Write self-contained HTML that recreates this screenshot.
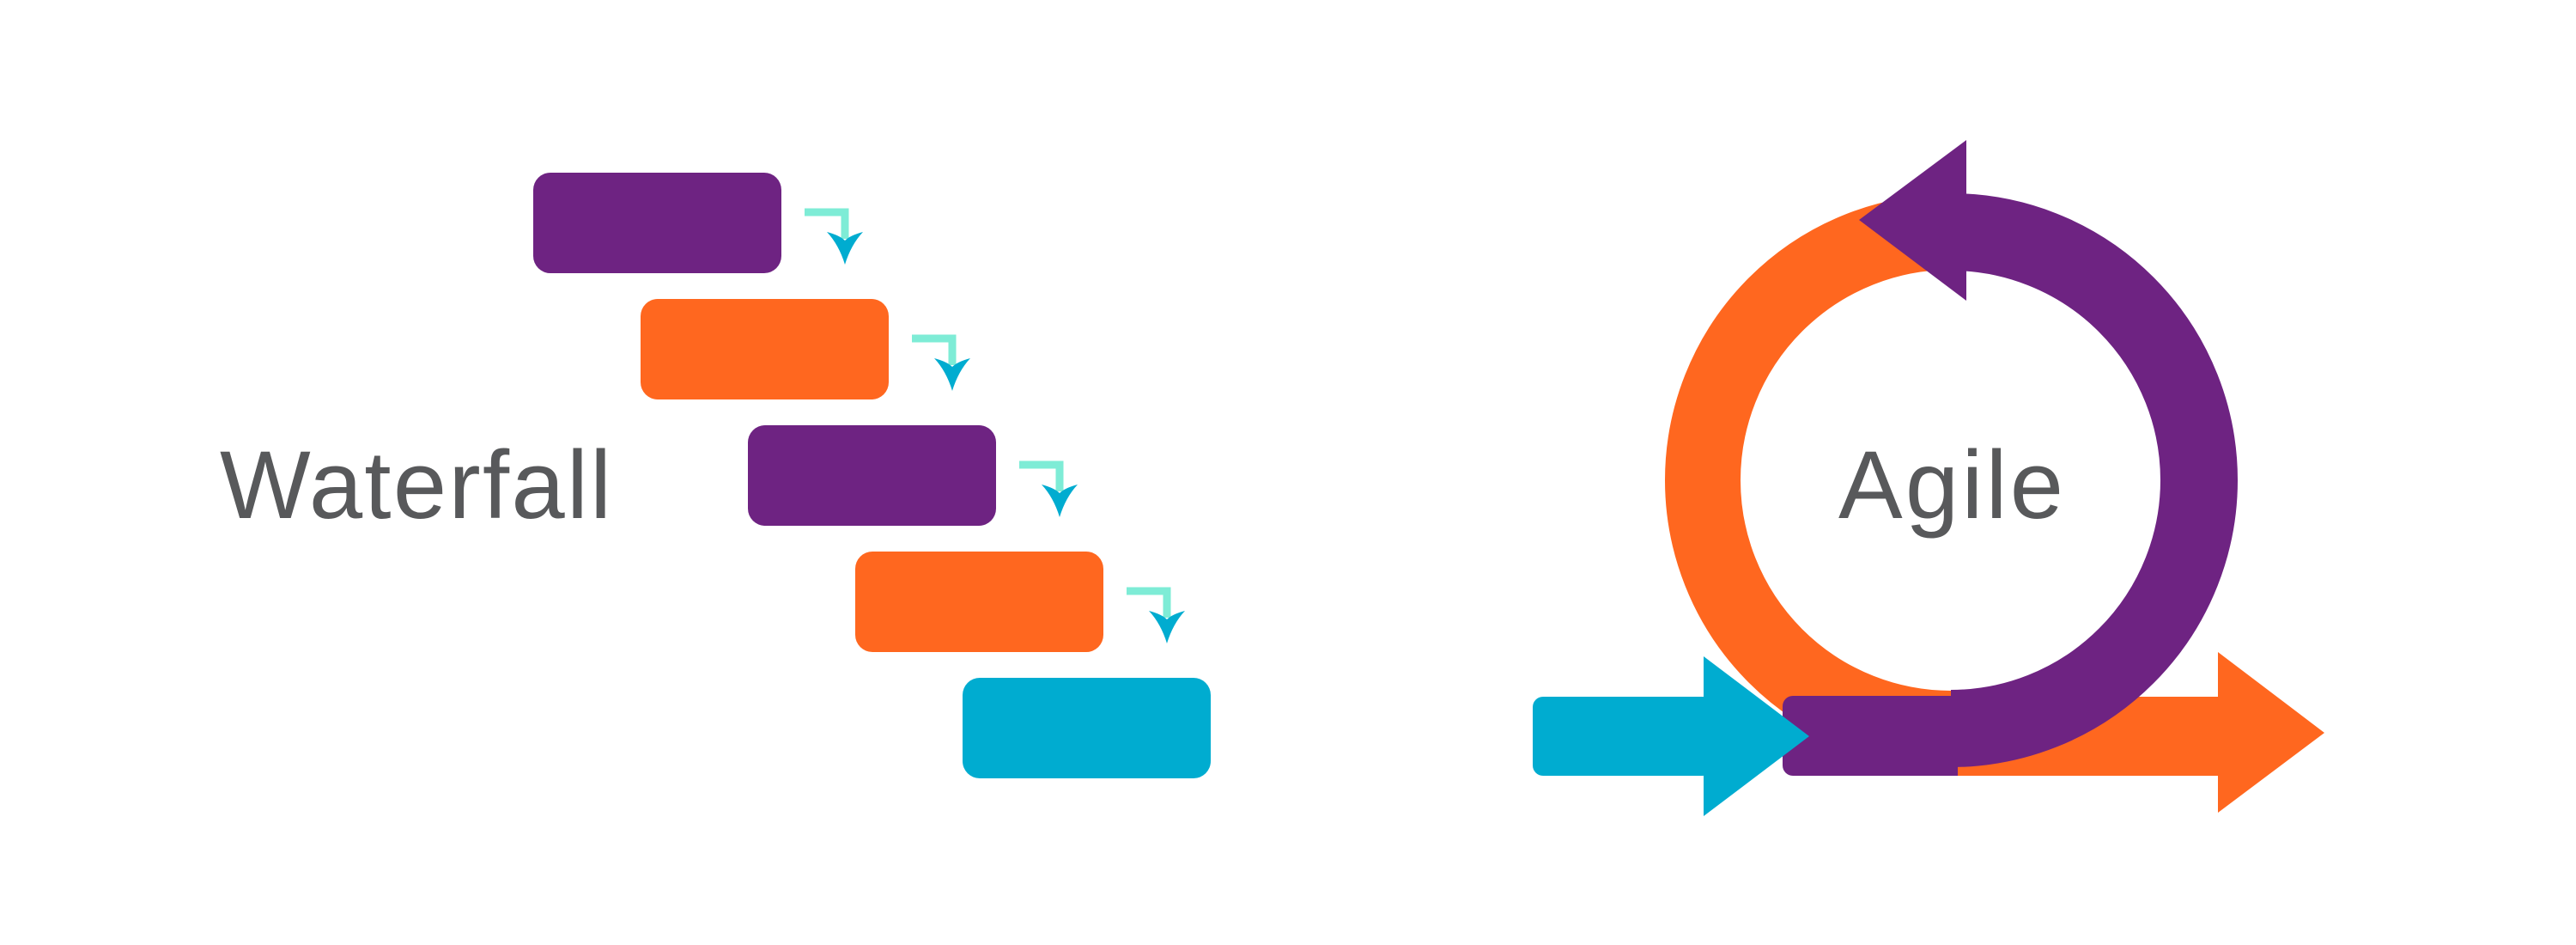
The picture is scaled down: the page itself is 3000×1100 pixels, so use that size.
<!DOCTYPE html>
<html><head><meta charset="utf-8"><style>
html,body{margin:0;padding:0;background:#fff;}
svg{display:block;}
</style></head><body>
<svg width="3000" height="1100" viewBox="0 0 3000 1100" xmlns="http://www.w3.org/2000/svg">
<rect width="3000" height="1100" fill="#fff"/>
<g>
<rect x="621" y="201" width="289" height="117" rx="20" fill="#6e2382"/>
<rect x="746" y="348" width="289" height="117" rx="20" fill="#ff671f"/>
<rect x="871" y="495" width="289" height="117" rx="20" fill="#6e2382"/>
<rect x="996" y="642" width="289" height="117" rx="20" fill="#ff671f"/>
<rect x="1121" y="789" width="289" height="117" rx="20" fill="#00acd0"/>
</g>
<g id="c">
<path d="M937 247 H984 V278" fill="none" stroke="#7eecd6" stroke-width="9"/>
<path d="M963 270 Q978 274 984 280 Q990 274 1005 270 Q991 285 984 308 Q977 285 963 270 Z" fill="#00acd0"/>
</g>
<use href="#c" transform="translate(125,147)"/>
<use href="#c" transform="translate(250,294)"/>
<use href="#c" transform="translate(375,441)"/>
<text x="256" y="603" font-family="Liberation Sans, sans-serif" font-size="112" fill="#58595b" textLength="456">Waterfall</text>

<!-- Agile -->
<circle cx="2272" cy="559" r="289" fill="none" stroke="#ff671f" stroke-width="88"/>
<rect x="2272" y="811" width="314" height="92" fill="#ff671f"/>
<path d="M2583 759 L2707 853 L2583 946 Z" fill="#ff671f"/>
<path d="M2272 270 A289 289 0 0 1 2561 559 A289 289 0 0 1 2272 848" fill="none" stroke="#6e2382" stroke-width="90"/>
<rect x="2076" y="810" width="200" height="93" rx="12" fill="#6e2382"/>
<rect x="2200" y="810" width="80" height="93" fill="#6e2382"/>
<path d="M2290 163 L2165 256 L2290 350 Z" fill="#6e2382"/>
<rect x="2260" y="225" width="30" height="90" fill="#6e2382"/>
<rect x="1785" y="811" width="210" height="92" rx="12" fill="#00acd0"/>
<path d="M1984 764 L2107 857 L1984 950 Z" fill="#00acd0"/>
<text x="2272" y="603" text-anchor="middle" font-family="Liberation Sans, sans-serif" font-size="112" fill="#58595b" textLength="262">Agile</text>
</svg>
</body></html>
